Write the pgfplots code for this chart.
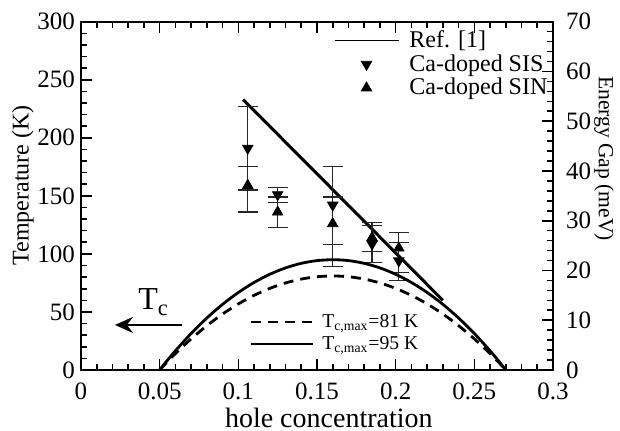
\documentclass[border=0pt]{standalone}
\usepackage{fontspec}
\setmainfont{Liberation Serif}
\usepackage{pgfplots}
\usepackage{pgfplotstable}
\pgfplotsset{compat=1.18}
\usetikzlibrary{arrows.meta}

\pgfplotsset{
  mylegline/.style={legend image code/.code={\draw[##1] (0pt,0pt) -- (#1,0pt);}},
  mylegmark/.style={legend image code/.code={\draw[##1] plot coordinates {(#1,0pt)};}},
}

\pgfplotstableread{
x     y     ep    em
0.106 191   36    36
0.125 151   6     7
0.160 142   33    34
0.185 108.5 16    16
0.202 94    15.5  17
}\sisdata
\pgfplotstableread{
x     y     ep    em
0.106 159   16    23
0.125 136   13    13
0.160 126   23    37
0.185 114   13    12
0.202 105   13.5  21
}\sindata

\begin{document}
\begin{tikzpicture}[font=\fontsize{12}{14}\selectfont]
\begin{axis}[
  scale only axis, width=236pt, height=174.15pt,
  xmin=0, xmax=0.3, ymin=0, ymax=300,
  xtick={0,0.05,0.1,0.15,0.2,0.25,0.3},
  xticklabels={0,0.05,0.1,0.15,0.2,0.25,0.3},
  ytick={0,50,100,150,200,250,300},
  minor x tick num=4, minor y tick num=4,
  ytick pos=left, xtick pos=both,
  tick align=inside,
  major tick length=5.5pt, minor tick length=3pt,
  axis line style={line width=1pt},
  major tick style={line width=0.8pt, black},
  minor tick style={line width=0.8pt, black},
  /pgf/number format/assume math mode=true,
  ticklabel style={font=\fontsize{12.5}{14}\selectfont},
  xticklabel style={yshift=-3pt},
  yticklabel style={xshift=0.5pt},
  xlabel={hole concentration}, ylabel={Temperature (K)},
  xlabel style={font=\fontsize{14}{16}\selectfont, at={(axis description cs:0.525,-0.1655)}, anchor=base, inner sep=0pt},
  ylabel style={font=\fontsize{12}{14}\selectfont, at={(axis description cs:-0.123,0.53)}, anchor=center},
  legend cell align=left,
  legend style={draw=none, fill=none, at={(axis description cs:0.9975,0.987)}, anchor=north east,
    font=\fontsize{12}{14}\selectfont, row sep=-2pt, column sep=3pt, inner sep=0pt},
]
\addlegendimage{black, line width=0.9pt, mylegline=32pt}
\addlegendentry{Ref. [1]}
\addlegendimage{only marks, black, mark=triangle*, mark size=3pt, mark options={rotate=180, fill=black}, mylegmark=16pt}
\addlegendentry{Ca-doped SIS}
\addlegendimage{only marks, black, mark=triangle*, mark size=3pt, mark options={fill=black}, mylegmark=16pt}
\addlegendentry{Ca-doped SIN}

\addplot[black, line width=1.5pt, forget plot] coordinates {(0.103,233) (0.230,60)};

\addplot[only marks, black, mark=triangle*, mark size=3pt, mark options={rotate=180, fill=black}, forget plot,
  error bars/.cd, y dir=both, y explicit,
  error bar style={line width=0.6pt, black!85},
  error mark options={rotate=90, mark size=5pt, line width=0.6pt, black!85}]
  table[x=x, y=y, y error plus=ep, y error minus=em] {\sisdata};
\addplot[only marks, black, mark=triangle*, mark size=3pt, mark options={fill=black}, forget plot,
  error bars/.cd, y dir=both, y explicit,
  error bar style={line width=0.6pt, black!85},
  error mark options={rotate=90, mark size=5pt, line width=0.6pt, black!85}]
  table[x=x, y=y, y error plus=ep, y error minus=em] {\sindata};

\addplot[black, line width=1.4pt, smooth, forget plot] coordinates {
(0.05,0) (0.055,8.49) (0.06,16.53) (0.07,31.44) (0.08,44.78) (0.09,56.55) (0.10,66.75)
(0.11,75.38) (0.12,82.44) (0.13,87.94) (0.14,91.86) (0.15,94.22) (0.16,95)
(0.17,94.22) (0.18,91.86) (0.19,87.94) (0.20,82.44) (0.21,75.38) (0.22,66.75)
(0.23,56.55) (0.24,44.78) (0.25,31.44) (0.26,16.53) (0.265,8.49) (0.27,0)};
\addplot[black, line width=1.4pt, smooth, dash pattern=on 5pt off 3.5pt, forget plot] coordinates {
(0.05,0) (0.055,7.24) (0.06,14.09) (0.07,26.81) (0.08,38.18) (0.09,48.22) (0.10,56.91)
(0.11,64.27) (0.12,70.30) (0.13,74.98) (0.14,78.32) (0.15,80.33) (0.16,81)
(0.17,80.33) (0.18,78.32) (0.19,74.98) (0.20,70.30) (0.21,64.27) (0.22,56.91)
(0.23,48.22) (0.24,38.18) (0.25,26.81) (0.26,14.09) (0.265,7.24) (0.27,0)};

\draw[-{Stealth[length=9pt,width=8pt,inset=3pt]}, line width=0.9pt] (axis cs:0.064,38.8) -- (axis cs:0.0216,38.8);
\node[font=\fontsize{16}{18}\selectfont, anchor=base west, inner sep=0pt] at (axis cs:0.0362,51.7) {T\textsubscript{c}};
\end{axis}

\begin{axis}[
  scale only axis, width=236pt, height=174.15pt,
  xmin=0, xmax=0.3, ymin=0, ymax=70,
  axis x line=none, axis y line*=right,
  ytick={0,10,20,30,40,50,60,70},
  minor y tick num=4,
  tick align=inside,
  major tick length=5.5pt, minor tick length=3pt,
  axis line style={line width=1pt},
  major tick style={line width=0.8pt, black},
  minor tick style={line width=0.8pt, black},
  /pgf/number format/assume math mode=true,
  ticklabel style={font=\fontsize{12.5}{14}\selectfont},
  yticklabel style={xshift=3pt},
  ylabel={Energy Gap (meV)},
  ylabel style={font=\fontsize{10.8}{12}\selectfont, at={(axis description cs:1.108,0.607)}, anchor=center, rotate=180},
  legend cell align=left,
  legend style={draw=none, fill=none, at={(axis description cs:0.358,0.105)}, anchor=west,
    font=\fontsize{9.8}{11}\selectfont, row sep=-1pt, column sep=2pt, inner sep=0pt},
]
\addplot[draw=none, forget plot] coordinates {(0,0)};
\addlegendimage{black, line width=1pt, dash pattern=on 5pt off 3.5pt, mylegline=31pt}
\addlegendentry{T\textsubscript{c,max}=81 K}
\addlegendimage{black, line width=1pt, mylegline=31pt}
\addlegendentry{T\textsubscript{c,max}=95 K}
\end{axis}
\pgfresetboundingbox
\path (-40.5pt,-30.5pt) rectangle (269.5pt,185pt);
\end{tikzpicture}
\end{document}
